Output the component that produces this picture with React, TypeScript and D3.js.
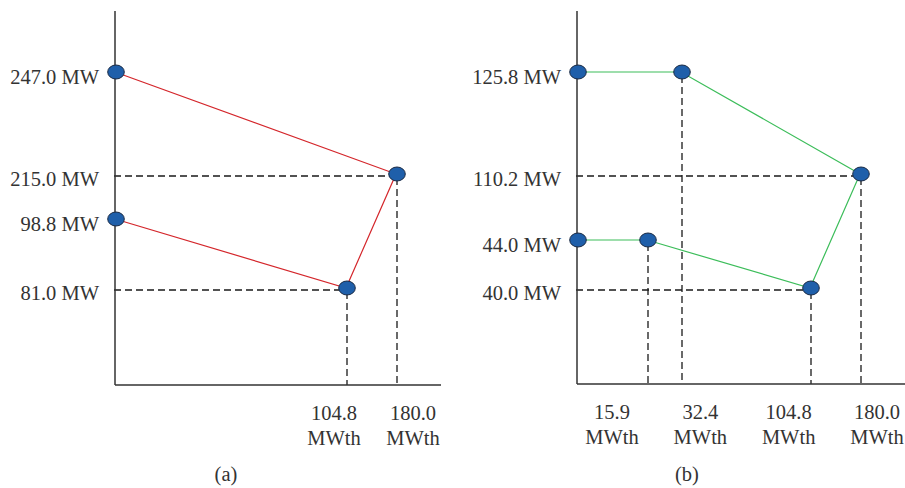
import React from 'react';
import * as d3 from 'd3';

// panel (a): electric output vs thermal output
const yTicksA = [247.0, 215.0, 98.8, 81.0];
const xTicksA = [104.8, 180.0];
const pathA = [
  { x: 0, y: 247.0 },
  { x: 180.0, y: 215.0 },
  { x: 104.8, y: 81.0 },
  { x: 0, y: 98.8 },
];
const guidesA = [
  { x: 180.0, y: 215.0 },
  { x: 104.8, y: 81.0 },
];

// panel (b)
const yTicksB = [125.8, 110.2, 44.0, 40.0];
const xTicksB = [15.9, 32.4, 104.8, 180.0];
const pathB = [
  { x: 0, y: 125.8 },
  { x: 32.4, y: 125.8 },
  { x: 180.0, y: 110.2 },
  { x: 104.8, y: 40.0 },
  { x: 15.9, y: 44.0 },
  { x: 0, y: 44.0 },
];
const guidesB = [
  { x: 180.0, y: 110.2, h: true },
  { x: 104.8, y: 40.0, h: true },
  { x: 32.4, y: 125.8, h: false },
  { x: 15.9, y: 44.0, h: false },
];

const FONT = '"Liberation Serif", "Times New Roman", serif';
const TEXT = '#333';

type Pt = { x: number; y: number; h?: boolean };

function Panel(props: {
  x: d3.ScaleLinear<number, number>;
  y: d3.ScaleLinear<number, number>;
  xEnd: number;
  top: number;
  path: Pt[];
  guides: Pt[];
  yTicks: number[];
  xTicks: number[];
  labelX: d3.ScalePoint<string>;
  color: string;
  caption: string;
  captionX: number;
}) {
  const { x, y, path, guides, yTicks, xTicks, labelX, color } = props;
  const x0 = x(0);
  const y0 = y(0);
  const line = d3.line<Pt>().x(d => x(d.x)).y(d => y(d.y));
  const dash = { stroke: '#1a1a1a', strokeWidth: 1.3, strokeDasharray: '7,4', fill: 'none' };
  return (
    <g>
      {/* guides */}
      {guides.map((g, i) => (
        <g key={i}>
          {g.h !== false && (
            <line x1={x0 - 1} x2={x(g.x)} y1={y(g.y) + 2} y2={y(g.y) + 2} style={dash} />
          )}
          <line x1={x(g.x) + 1} x2={x(g.x) + 1} y1={y(g.y) + 4} y2={y0} style={dash} />
        </g>
      ))}
      {/* axes */}
      <line x1={x0} x2={x0} y1={props.top} y2={y0} stroke="#333" strokeWidth={1.5} />
      <line x1={x0} x2={props.xEnd} y1={y0} y2={y0} stroke="#333" strokeWidth={1.5} />
      {/* series */}
      <path d={line(path) ?? ''} fill="none" stroke={color} strokeWidth={1.2} />
      {path.map((p, i) => (
        <ellipse
          key={i}
          cx={x(p.x) + 1}
          cy={y(p.y)}
          rx={8.3}
          ry={7}
          fill="#1F5FAA"
          stroke="#1a2a44"
          strokeWidth={1}
        />
      ))}
      {/* y labels */}
      {yTicks.map(v => (
        <text
          key={v}
          x={x0 - 16}
          y={y(v) + 5}
          textAnchor="end"
          dominantBaseline="central"
          fontFamily={FONT}
          fontSize={20.5}
          fill={TEXT}
        >
          {v.toFixed(1)} MW
        </text>
      ))}
      {/* x labels */}
      {xTicks.map(v => (
        <text
          key={v}
          textAnchor="middle"
          fontFamily={FONT}
          fontSize={20.5}
          fill={TEXT}
        >
          <tspan x={labelX(v.toFixed(1))} y={y0 + 35}>{v.toFixed(1)}</tspan>
          <tspan x={labelX(v.toFixed(1))} y={y0 + 60}>MWth</tspan>
        </text>
      ))}
      <text
        x={props.captionX}
        y={481}
        textAnchor="middle"
        fontFamily={FONT}
        fontSize={20.5}
        fill={TEXT}
      >
        {props.caption}
      </text>
    </g>
  );
}

export default function App() {
  // schematic axes: piecewise scales through the marked values
  const xA = d3.scaleLinear().domain([0, 104.8, 180.0]).range([115, 346, 396]);
  const yA = d3.scaleLinear().domain([0, 81.0, 98.8, 215.0, 247.0]).range([385, 288, 219, 174, 72]);
  const lxA = d3.scalePoint<string>().domain(xTicksA.map(v => v.toFixed(1))).range([334, 413]);

  const xB = d3.scaleLinear().domain([0, 15.9, 32.4, 104.8, 180.0]).range([577, 647, 681, 810, 860]);
  const yB = d3.scaleLinear().domain([0, 40.0, 44.0, 110.2, 125.8]).range([384, 288, 240, 174, 72]);
  const lxB = d3.scalePoint<string>().domain(xTicksB.map(v => v.toFixed(1))).range([612, 877]);

  return (
    <div>
      <style>{`body{margin:0;background:#fff}`}</style>
      <svg width={905} height={488} style={{ display: 'block' }}>
        <rect width={905} height={488} fill="#fff" />
        <Panel
          x={xA}
          y={yA}
          xEnd={441}
          top={11}
          path={pathA}
          guides={guidesA}
          yTicks={yTicksA}
          xTicks={xTicksA}
          labelX={lxA}
          color="#D4262B"
          caption="(a)"
          captionX={226}
        />
        <Panel
          x={xB}
          y={yB}
          xEnd={905}
          top={11}
          path={pathB}
          guides={guidesB}
          yTicks={yTicksB}
          xTicks={xTicksB}
          labelX={lxB}
          color="#3CBD5A"
          caption="(b)"
          captionX={687}
        />
      </svg>
    </div>
  );
}
